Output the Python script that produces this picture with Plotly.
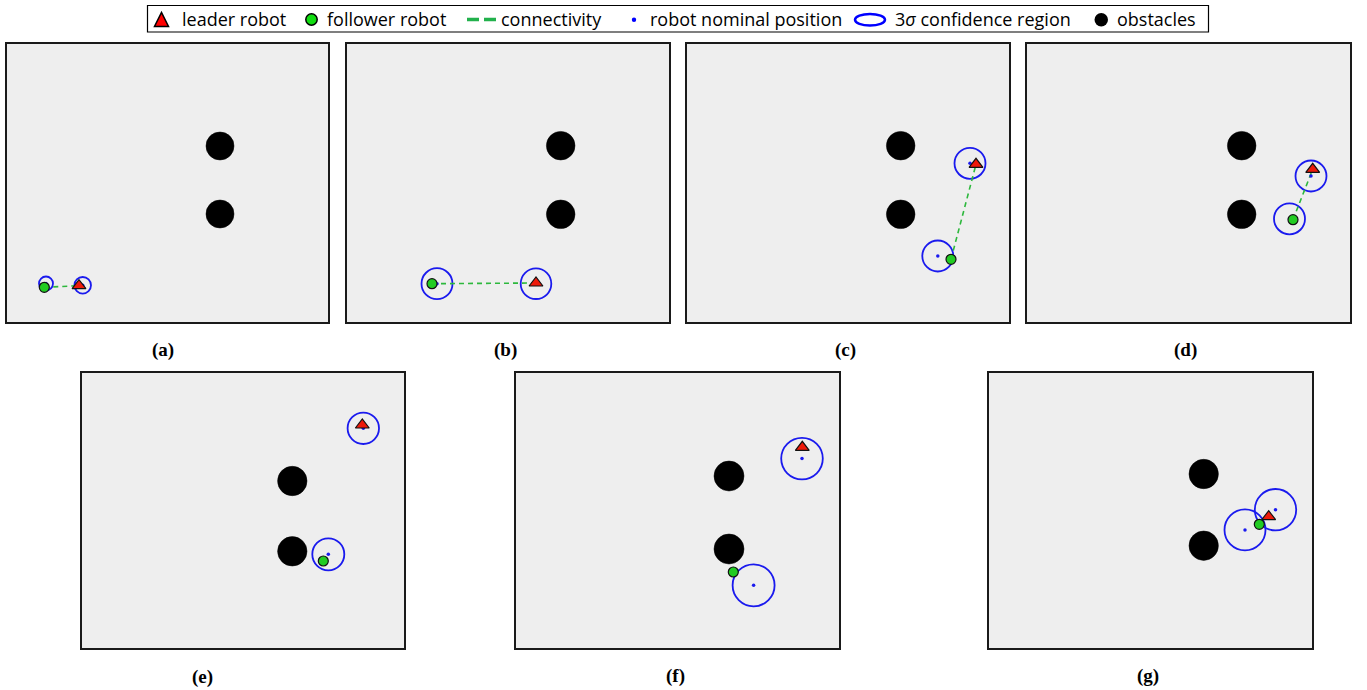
import plotly.graph_objects as go

# ---------------- data (panel units = pixels, x to the right, y upward) ----------------
panel_labels = ["(a)", "(b)", "(c)", "(d)", "(e)", "(f)", "(g)"]

obstacle_x = [[213, 213], [213.7, 213.7], [213.7, 213.7], [214.7, 214.7],
              [210.3, 210.3], [213, 213], [214.7, 214.7]]
obstacle_y = [[176, 108], [176.3, 107.7], [176.3, 107.7], [176.3, 107.7],
              [167, 96.7], [172, 99], [174, 102.3]]
obstacle_r = [14, 14.3, 14.3, 14.3, 14.7, 15, 14.7]

leader_x = [72, 189, 289, 285.7, 280.3, 286.3, 279.7]
leader_y = [36.3, 39, 157.7, 152.7, 223, 200.7, 131.3]
leader_nom_x = [75.7, 189, 283, 284, 281.3, 286, 286.5]
leader_nom_y = [36.7, 38.3, 158.7, 146, 219.7, 189.4, 138.3]
leader_r = [8.3, 15.3, 15.5, 15.5, 15.7, 20.8, 20.7]

follower_x = [37.3, 85, 264, 266, 241.3, 217.3, 270.3]
follower_y = [34.7, 38.3, 62.7, 102.3, 87, 76, 123.7]
follower_nom_x = [39, 90, 250.8, 262.5, 246.3, 237.6, 256]
follower_nom_y = [38.5, 38.3, 66, 103.2, 93.7, 62.7, 118.1]
follower_r = [7, 15.5, 15.5, 15.5, 16, 21, 20.5]

connected = [True, True, True, True, False, False, True]

legend_labels = ["leader robot", "follower robot", "connectivity",
                 "robot nominal position", "3<i>σ</i> confidence region", "obstacles"]

# ---------------- layout helpers ----------------
W, H = 1367, 690
boxes = [(7, 44, 328, 322), (347, 44, 669, 322), (687, 44, 1009, 322), (1027, 44, 1350, 322),
         (82, 373, 404, 648), (516, 373, 839, 648), (989, 373, 1312, 648)]
label_pos = [(163, 350), (505.7, 350), (845.7, 350), (1185.7, 350),
             (202.3, 676.5), (675.7, 676), (1148.3, 676)]

def fx(px):
    return px / W

def fy(py):
    return 1 - py / H

GREEN = "#22cc22"
LINEGREEN = "#2db83d"
RED = "#ee1a0a"
BLUE = "#1a1aee"

fig = go.Figure()
shapes = []
annotations = []
layout = {}

for i in range(7):
    n = i + 1
    xr = f"x{n}" if n > 1 else "x"
    yr = f"y{n}" if n > 1 else "y"
    x0, y0, x1, y1 = boxes[i]
    layout[f"xaxis{n}"] = dict(domain=[fx(x0), fx(x1)], range=[0, x1 - x0], anchor=yr,
                               showticklabels=False, ticks="", showgrid=False, zeroline=False,
                               showline=True, mirror=True, linecolor="#1a1a1a", linewidth=1.5,
                               fixedrange=True)
    layout[f"yaxis{n}"] = dict(domain=[fy(y1), fy(y0)], range=[0, y1 - y0], anchor=xr,
                               showticklabels=False, ticks="", showgrid=False, zeroline=False,
                               showline=True, mirror=True, linecolor="#1a1a1a", linewidth=1.5,
                               fixedrange=True)

    # obstacles
    for ox, oy in zip(obstacle_x[i], obstacle_y[i]):
        r = obstacle_r[i]
        shapes.append(dict(type="circle", xref=xr, yref=yr, x0=ox - r, x1=ox + r,
                           y0=oy - r, y1=oy + r, fillcolor="black",
                           line=dict(color="black", width=0.5), layer="below"))
    # 3-sigma confidence circles
    for cx, cy, r in [(leader_nom_x[i], leader_nom_y[i], leader_r[i]),
                      (follower_nom_x[i], follower_nom_y[i], follower_r[i])]:
        shapes.append(dict(type="circle", xref=xr, yref=yr, x0=cx - r, x1=cx + r,
                           y0=cy - r, y1=cy + r, line=dict(color=BLUE, width=1.8),
                           layer="below"))

    # connectivity
    if connected[i]:
        fig.add_trace(go.Scatter(x=[follower_x[i], leader_x[i]], y=[follower_y[i], leader_y[i]],
                                 mode="lines", line=dict(color=LINEGREEN, width=1.6, dash="5px,4px"),
                                 xaxis=xr, yaxis=yr, showlegend=False, hoverinfo="skip"))
    # nominal positions
    fig.add_trace(go.Scatter(x=[leader_nom_x[i], follower_nom_x[i]],
                             y=[leader_nom_y[i], follower_nom_y[i]], mode="markers",
                             marker=dict(color=BLUE, size=3.5), xaxis=xr, yaxis=yr,
                             showlegend=False, hoverinfo="skip"))
    # follower robot
    fig.add_trace(go.Scatter(x=[follower_x[i]], y=[follower_y[i]], mode="markers",
                             marker=dict(color=GREEN, size=10, line=dict(color="#111", width=1.2)),
                             xaxis=xr, yaxis=yr, showlegend=False, hoverinfo="skip"))
    # leader robot
    fig.add_trace(go.Scatter(x=[leader_x[i]], y=[leader_y[i]], mode="markers",
                             marker=dict(color=RED, size=12, symbol="triangle-up",
                                         line=dict(color="#111", width=1.2)),
                             xaxis=xr, yaxis=yr, showlegend=False, hoverinfo="skip"))

    lx, ly = label_pos[i]
    annotations.append(dict(x=fx(lx), y=fy(ly), xref="paper", yref="paper", showarrow=False,
                            text=f"<b>{panel_labels[i]}</b>", xanchor="center", yanchor="middle",
                            font=dict(family="Liberation Serif", size=19, color="black")))

# ---------------- manual legend ----------------
ly = 19.5
shapes.append(dict(type="rect", xref="paper", yref="paper", x0=fx(147.5), x1=fx(1208.5),
                   y0=fy(32), y1=fy(5.5), line=dict(color="black", width=1.2),
                   fillcolor="white"))
# triangle
shapes.append(dict(type="path", xref="paper", yref="paper",
                   path=f"M {fx(154.5)} {fy(26.5)} L {fx(168.5)} {fy(26.5)} L {fx(161.5)} {fy(12.5)} Z",
                   fillcolor="#ff0000", line=dict(color="black", width=1.5)))
# green circle
shapes.append(dict(type="circle", xref="paper", yref="paper", x0=fx(305.8), x1=fx(317.2),
                   y0=fy(25.2), y1=fy(13.8), fillcolor="#11dd11", line=dict(color="black", width=1.5)))
# dashed line
shapes.append(dict(type="line", xref="paper", yref="paper", x0=fx(467), x1=fx(497),
                   y0=fy(ly), y1=fy(ly), line=dict(color="#22b14c", width=3.5, dash="12px,5px")))
# blue dot
shapes.append(dict(type="circle", xref="paper", yref="paper", x0=fx(631.8), x1=fx(636.2),
                   y0=fy(22), y1=fy(17.6), fillcolor="#0000ff", line=dict(color="#0000ff", width=0)))
# ellipse
shapes.append(dict(type="circle", xref="paper", yref="paper", x0=fx(855), x1=fx(885),
                   y0=fy(25.5), y1=fy(14), line=dict(color="#0000ff", width=2.5)))
# obstacle dot
shapes.append(dict(type="circle", xref="paper", yref="paper", x0=fx(1094.5), x1=fx(1108),
                   y0=fy(26.5), y1=fy(13), fillcolor="black", line=dict(color="black", width=0)))

text_x = [179.5, 325, 499, 648, 893, 1115]
for t, tx in zip(legend_labels, text_x):
    annotations.append(dict(x=fx(tx), y=fy(ly), xref="paper", yref="paper", showarrow=False,
                            text=t, xanchor="left", yanchor="middle",
                            font=dict(family="Open Sans", size=18, color="black")))

fig.update_layout(width=W, height=H, margin=dict(l=0, r=0, t=0, b=0),
                  paper_bgcolor="white", plot_bgcolor="#eeeeee",
                  shapes=shapes, annotations=annotations, showlegend=False, **layout)

fig.write_html("out.html", config={"displayModeBar": False},
               post_script="document.body.style.margin='0';document.body.style.overflow='hidden';")
